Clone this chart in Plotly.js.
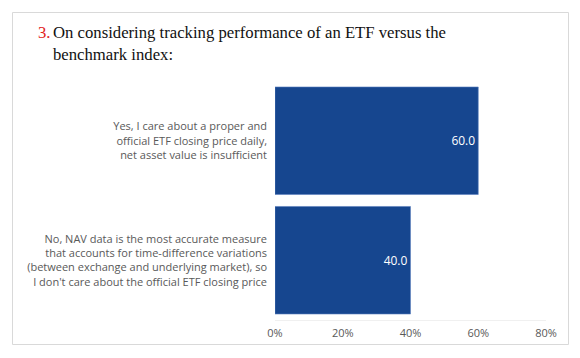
<!DOCTYPE html>
<html>
<head>
<meta charset="utf-8">
<script src="https://cdn.plot.ly/plotly-3.0.1.min.js"></script>
<style>html,body{margin:0;padding:0;background:#fff;}#chart{width:580px;height:358px;}</style>
</head>
<body>
<div id="chart"></div>
<script>
// ---- data ----
const categories = [
  "Yes, I care about a proper and<br>official ETF closing price daily,<br>net asset value is insufficient",
  "No, NAV data is the most accurate measure<br>that accounts for time-difference variations<br>(between exchange and underlying market), so<br>I don't care about the official ETF closing price"
];
const values = [60.0, 40.0];
const tickVals = [0, 20, 40, 60, 80];
const tickLabels = ["0%", "20%", "40%", "60%", "80%"];
const questionNumber = "3.";
const titleText = "On considering tracking performance of an ETF versus the<br>benchmark index:";

// ---- layout geometry (pixels) ----
const W = 580, H = 358;
const L = 275, R = 546, T = 81, B = 320;
const px2x = p => (p - L) / (R - L);
const py2y = p => (B - p) / (B - T);
const serif = 'Liberation Serif, Times New Roman, serif';

const trace = {
  type: 'bar',
  orientation: 'h',
  y: categories,
  x: values,
  marker: { color: '#16468f', line: { color: '#5b7fbd', width: 0.6 } },
  text: values.map(v => v.toFixed(1)),
  textposition: 'inside',
  insidetextanchor: 'end',
  textfont: { family: 'Open Sans, sans-serif', size: 12, color: '#ffffff' },
  hoverinfo: 'none'
};

const layout = {
  width: W, height: H,
  margin: { l: L, r: W - R, t: T, b: H - B, pad: 0 },
  paper_bgcolor: '#ffffff',
  plot_bgcolor: '#ffffff',
  showlegend: false,
  bargap: 0.1,
  xaxis: {
    range: [0, 80],
    tickvals: tickVals,
    ticktext: tickLabels,
    showgrid: false,
    zeroline: false,
    showline: true,
    linecolor: '#f0f0f0',
    linewidth: 1,
    ticks: '',
    ticklabelstandoff: 3,
    tickfont: { family: 'Open Sans, sans-serif', size: 11, color: '#595959' },
    fixedrange: true
  },
  yaxis: {
    autorange: 'reversed',
    showgrid: false,
    zeroline: false,
    showline: false,
    ticks: '',
    ticklabelstandoff: 7,
    tickfont: { family: 'Open Sans, sans-serif', size: 11, color: '#595959' },
    fixedrange: true
  },
  annotations: [{
    text: questionNumber,
    xref: 'paper', yref: 'paper',
    x: px2x(35.5), y: py2y(21),
    xanchor: 'left', yanchor: 'top',
    showarrow: false,
    font: { family: serif, size: 16.7, color: '#e2231a' }
  }, {
    text: titleText,
    xref: 'paper', yref: 'paper',
    x: px2x(51), y: py2y(21),
    xanchor: 'left', yanchor: 'top', align: 'left',
    showarrow: false,
    font: { family: serif, size: 16.7, color: '#111111' }
  }],
  shapes: [{
    type: 'rect', xref: 'paper', yref: 'paper',
    x0: px2x(12.5), x1: px2x(568.5), y0: py2y(344.5), y1: py2y(12.5),
    line: { color: '#d9d9d9', width: 1 },
    fillcolor: 'rgba(0,0,0,0)',
    layer: 'below'
  }]
};

Plotly.newPlot('chart', [trace], layout, { displayModeBar: false, staticPlot: true });
</script>
</body>
</html>
